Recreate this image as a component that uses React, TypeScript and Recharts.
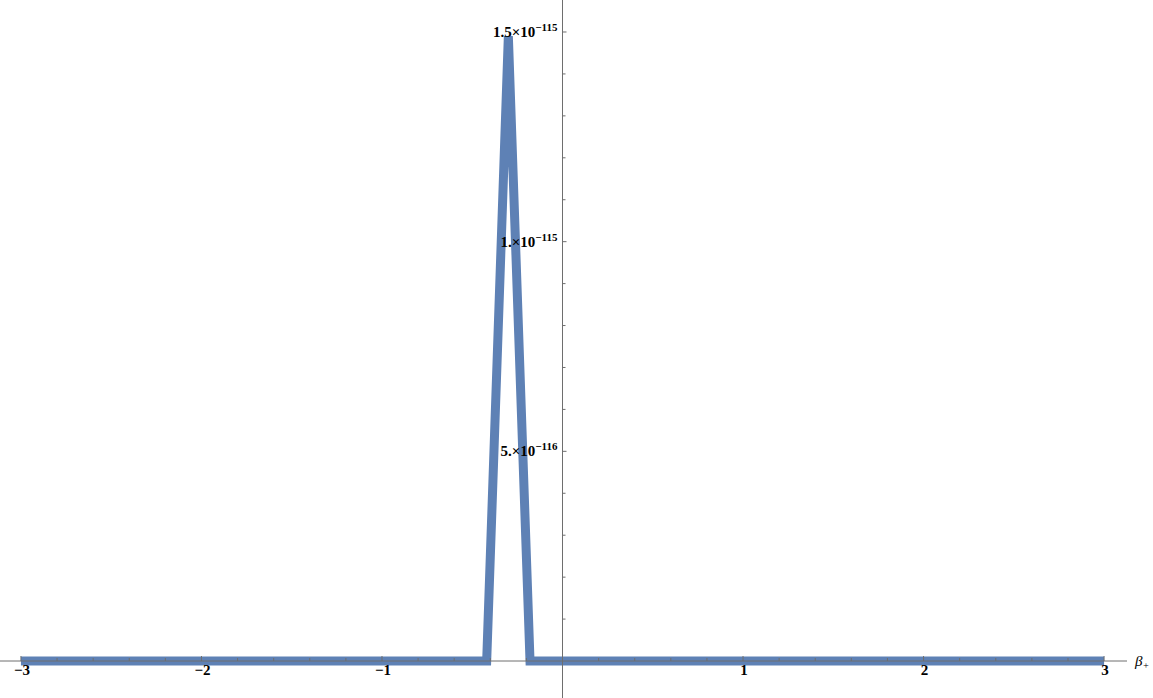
import { LineChart, Line, XAxis, YAxis, ReferenceLine, ReferenceDot } from 'recharts';

// sampled curve (beta_+ , density)
const betaValues = [-3, -0.42, -0.3, -0.18, 3];
const densityValues = [0, 0, 1.49e-115, 0, 0];

// x axis ticks
const xMajorTicks = [-3, -2, -1, 1, 2, 3];
const xMajorLabels = ['\u22123', '\u22122', '\u22121', '1', '2', '3'];
const xMinorTicks = Array.from({ length: 31 }, (_, i) => Math.round((-3 + i * 0.2) * 10) / 10)
  .filter((v) => !Number.isInteger(v));

// y axis ticks
const yMajorTicks = [5e-116, 1e-115, 1.5e-115];
const yMajorMantissa = ['5.', '1.', '1.5'];
const yMajorExponent = ['\u2212116', '\u2212115', '\u2212115'];
const yMinorTicks = [1, 2, 3, 4, 6, 7, 8, 9, 11, 12, 13, 14].map((k) => k * 1e-116);

const W = 1153;
const H = 698;
const AXIS = '#6e6e6e';
const LINE = '#5E81B5';
const FONT = '"Liberation Serif", "DejaVu Serif", serif';

const rows = betaValues.map((b, i) => ({ beta: b, density: densityValues[i] }));

function XTick({ cx, cy, major, label }: any) {
  return (
    <g>
      <line x1={cx} x2={cx} y1={cy} y2={cy - (major ? 5 : 3)} stroke={AXIS} strokeWidth={1} />
      {label && (
        <text x={cx + 1} y={cy + 14} textAnchor="middle" fontFamily={FONT} fontWeight="bold" fontSize={15} fill="#000">
          {label}
        </text>
      )}
    </g>
  );
}

function YTick({ cx, cy, major, mantissa, exponent }: any) {
  return (
    <g>
      <line x1={cx} x2={cx + (major ? 4 : 3)} y1={cy} y2={cy} stroke={AXIS} strokeWidth={1} />
      {major && (
        <text x={cx - 5} y={cy + 5} textAnchor="end" fontFamily={FONT} fontWeight="bold" fontSize={15} fill="#000">
          {mantissa}×10<tspan fontSize={11} dy={-6}>{exponent}</tspan>
        </text>
      )}
    </g>
  );
}

function BetaLabel(props: any) {
  const vb = props.viewBox || {};
  const x = (vb.x ?? 0) + (vb.width ?? 0) + 8;
  const y = (vb.y ?? 0) + 5;
  return (
    <text x={x} y={y} fontFamily={FONT} fontStyle="italic" fontSize={15} fill="#000">
      β<tspan fontSize={10} dy={3}>+</tspan>
    </text>
  );
}

export default function App() {
  return (
    <div style={{ position: 'absolute', left: 0, top: 0, width: W, height: H, background: '#fff' }}>
      <LineChart width={W} height={H} data={rows} margin={{ top: 0, right: 26, bottom: 0, left: 0 }}>
        <XAxis type="number" dataKey="beta" domain={[-3.116, 3.127]} allowDataOverflow hide />
        <YAxis type="number" domain={[-0.0882e-115, 1.5763e-115]} allowDataOverflow hide />
        <Line
          type="linear"
          dataKey="density"
          stroke={LINE}
          strokeWidth={9}
          dot={false}
          activeDot={false}
          isAnimationActive={false}
        />
        <ReferenceLine y={0} stroke={AXIS} strokeWidth={1} label={BetaLabel} />
        <ReferenceLine x={0} stroke={AXIS} strokeWidth={1} />
        {xMinorTicks.map((t) => (
          <ReferenceDot key={'xm' + t} x={t} y={0} shape={(p: any) => <XTick cx={p.cx} cy={p.cy} />} />
        ))}
        {xMajorTicks.map((t, i) => (
          <ReferenceDot
            key={'xM' + t}
            x={t}
            y={0}
            shape={(p: any) => <XTick cx={p.cx} cy={p.cy} major label={xMajorLabels[i]} />}
          />
        ))}
        {yMinorTicks.map((t) => (
          <ReferenceDot key={'ym' + t} x={0} y={t} shape={(p: any) => <YTick cx={p.cx} cy={p.cy} />} />
        ))}
        {yMajorTicks.map((t, i) => (
          <ReferenceDot
            key={'yM' + t}
            x={0}
            y={t}
            shape={(p: any) => (
              <YTick cx={p.cx} cy={p.cy} major mantissa={yMajorMantissa[i]} exponent={yMajorExponent[i]} />
            )}
          />
        ))}
      </LineChart>
    </div>
  );
}
